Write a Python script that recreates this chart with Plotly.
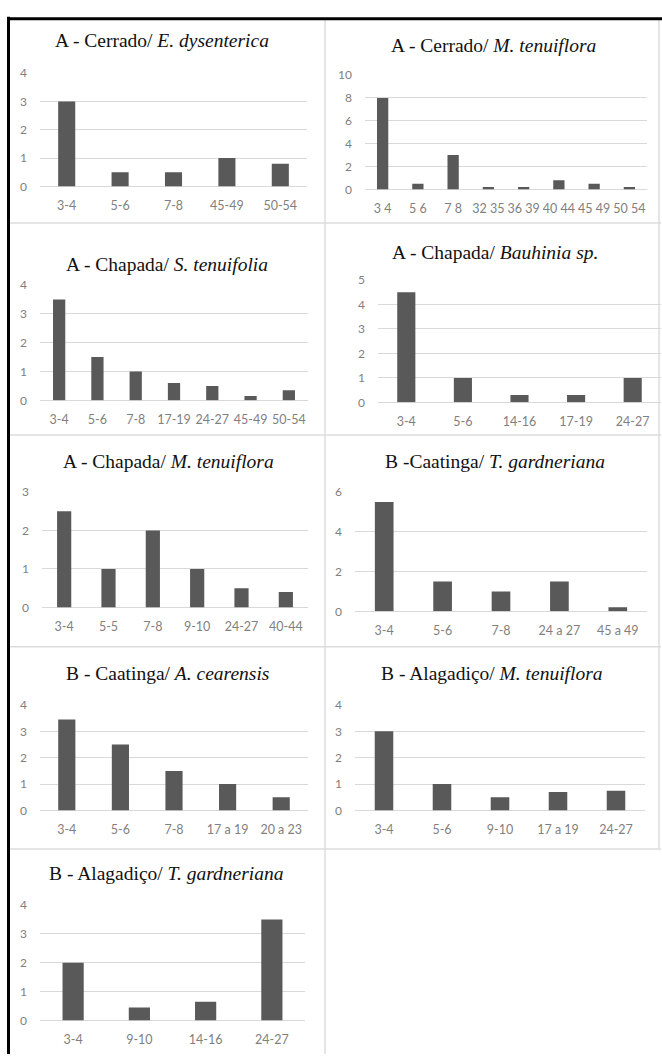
import plotly.graph_objects as go

W, H = 662, 1061

# ---- data ----
titles = [
    "A - Cerrado/ <i>E. dysenterica</i>",
    "A - Cerrado/ <i>M. tenuiflora</i>",
    "A - Chapada/ <i>S. tenuifolia</i>",
    "A - Chapada/ <i>Bauhinia sp.</i>",
    "A - Chapada/ <i>M. tenuiflora</i>",
    "B -Caatinga/ <i>T. gardneriana</i>",
    "B - Caatinga/ <i>A. cearensis</i>",
    "B - Alagadiço/ <i>M. tenuiflora</i>",
    "B - Alagadiço/ <i>T. gardneriana</i>",
]

cats_1 = ["3-4", "5-6", "7-8", "45-49", "50-54"]
vals_1 = [3, 0.5, 0.5, 1, 0.8]

cats_2 = ["3 4", "5 6", "7 8", "32 35", "36 39", "40 44", "45 49", "50 54"]
vals_2 = [8, 0.5, 3, 0.2, 0.2, 0.8, 0.5, 0.2]

cats_3 = ["3-4", "5-6", "7-8", "17-19", "24-27", "45-49", "50-54"]
vals_3 = [3.5, 1.5, 1, 0.6, 0.5, 0.15, 0.35]

cats_4 = ["3-4", "5-6", "14-16", "17-19", "24-27"]
vals_4 = [4.5, 1, 0.3, 0.3, 1]

cats_5 = ["3-4", "5-5", "7-8", "9-10", "24-27", "40-44"]
vals_5 = [2.5, 1, 2, 1, 0.5, 0.4]

cats_6 = ["3-4", "5-6", "7-8", "24 a 27", "45 a 49"]
vals_6 = [5.5, 1.5, 1, 1.5, 0.2]

cats_7 = ["3-4", "5-6", "7-8", "17 a 19", "20 a 23"]
vals_7 = [3.45, 2.5, 1.5, 1, 0.5]

cats_8 = ["3-4", "5-6", "9-10", "17 a 19", "24-27"]
vals_8 = [3, 1, 0.5, 0.7, 0.75]

cats_9 = ["3-4", "9-10", "14-16", "24-27"]
vals_9 = [2, 0.45, 0.65, 3.5]

y_max = [4, 10, 4, 5, 3, 6, 4, 4, 4]
y_dtick = [1, 2, 1, 1, 1, 2, 1, 1, 1]

cats_all = [cats_1, cats_2, cats_3, cats_4, cats_5, cats_6, cats_7, cats_8, cats_9]
vals_all = [vals_1, vals_2, vals_3, vals_4, vals_5, vals_6, vals_7, vals_8, vals_9]

# ---- layout (pixel boxes: x0, x1, y_top, y_bottom) ----
boxes = [
    (40, 307, 66, 181),
    (365, 647, 68, 184),
    (40, 308, 281, 398),
    (378, 661, 276, 400),
    (42, 308, 491, 608),
    (355, 647, 491, 612),
    (40, 308, 707, 814),
    (355, 645, 707, 814),
    (40, 305, 910, 1027),
]
title_pos = [(162, 33), (494, 38), (167, 260), (495, 248), (168, 460),
             (495, 460), (167, 675), (492, 675), (166, 878)]

def px(x):
    return x / W

def py(y):
    return 1 - y / H

fig = go.Figure()
layout = dict(
    width=W, height=H, margin=dict(l=0, r=0, t=0, b=0),
    paper_bgcolor="white", plot_bgcolor="white", showlegend=False,
    font=dict(family="Lato, Liberation Sans, sans-serif", color="#7f7f7f", size=12),
)
annotations = []
for i in range(9):
    k = i + 1
    sfx = "" if k == 1 else str(k)
    x0, x1, yt, yb = boxes[i]
    fig.add_trace(go.Bar(
        x=cats_all[i], y=vals_all[i], width=0.32,
        marker=dict(color="#595959", line=dict(width=0)),
        xaxis="x" + sfx, yaxis="y" + sfx,
    ))
    n = len(cats_all[i])
    layout["xaxis" + sfx] = dict(
        domain=[px(x0), px(x1)], anchor="y" + sfx, type="category",
        range=[-0.5, n - 0.5], showgrid=False, showline=False, zeroline=False,
        ticks="", ticklabelstandoff=10, tickangle=0,
        tickfont=dict(size=12.5, color="#7f7f7f"), fixedrange=True,
    )
    layout["yaxis" + sfx] = dict(
        domain=[py(yb), py(yt)], anchor="x" + sfx,
        range=[0, y_max[i]], dtick=y_dtick[i], tick0=0,
        showgrid=True, gridcolor="#d9d9d9", gridwidth=1,
        zeroline=True, zerolinecolor="#d9d9d9", zerolinewidth=1,
        showline=False, ticks="", ticklabelstandoff=12,
        tickfont=dict(size=12, color="#7f7f7f"), fixedrange=True,
    )
    tx, ty = title_pos[i]
    annotations.append(dict(
        text=titles[i], x=px(tx), y=py(ty), xref="paper", yref="paper",
        xanchor="center", yanchor="middle", showarrow=False,
        font=dict(family="Liberation Serif, Times New Roman, serif", size=19.5, color="#111111"),
    ))

shapes = []
gray = "#dcdcdc"
def line(x0, y0, x1, y1, color, width):
    shapes.append(dict(type="line", xref="paper", yref="paper",
                       x0=px(x0), y0=py(y0), x1=px(x1), y1=py(y1),
                       line=dict(color=color, width=width)))

# gray panel borders
line(325, 12, 325, 1061, gray, 1.5)
line(659, 12, 659, 853, gray, 1.5)
for yy in [218, 433, 648, 853]:
    line(10, yy, 661, yy, gray, 1.5)
# thick black frame (left, top)
line(8.5, 9, 8.5, 1061, "black", 3)
line(7, 11, 662, 11, "black", 3)

layout["annotations"] = annotations
layout["shapes"] = shapes
fig.update_layout(**layout)
fig.write_html(
    "out.html",
    config={"displayModeBar": False, "staticPlot": True},
    post_script="document.body.style.margin='0px';document.body.style.overflow='hidden';",
)
